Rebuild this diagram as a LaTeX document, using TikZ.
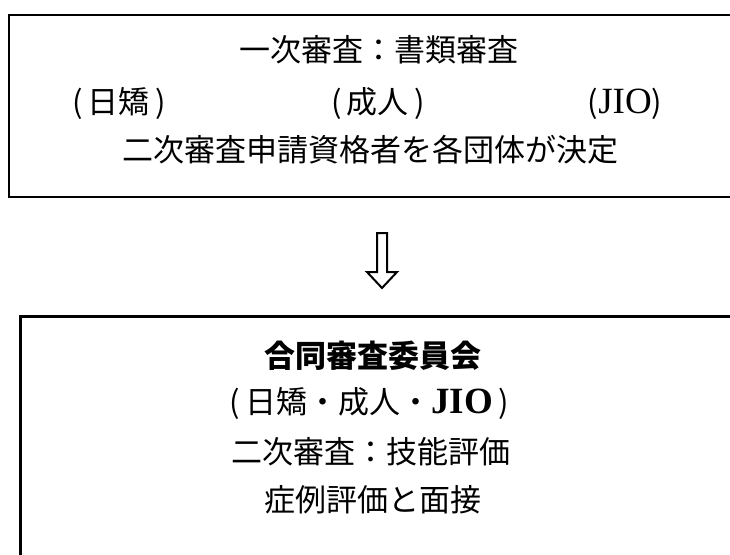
\documentclass[tikz,border=0pt]{standalone}
\usepackage{fontspec}
\newfontfamily\jp{Noto Sans CJK JP}
\newfontfamily\lat{Liberation Serif}
\newcommand{\jio}{{\lat\fontsize{37}{37}\selectfont JIO}}
\newcommand{\jiob}{{\lat\bfseries\fontsize{37}{37}\selectfont JIO}}
\begin{document}
\begin{tikzpicture}[x=1pt,y=-1pt,
  txt/.style={font=\jp\fontsize{31}{31}\selectfont, inner sep=0pt, anchor=center},
  txtb/.style={font=\jp\bfseries\fontsize{31}{31}\selectfont, inner sep=0pt, anchor=center},
  frame/.style={draw=black, line width=2.4pt, inner sep=0pt, anchor=north west},
  hollowarrow/.style={draw=black, fill=white, line width=2pt, line join=miter}]
\useasboundingbox[fill=white] (0,0) rectangle (730,554);
\clip (0,0) rectangle (730,554);
% boxes (cut off by the picture edge on the right / bottom)
\node[frame, minimum width=760pt, minimum height=182pt] (box1) at (8,14) {};
\node[frame, line width=2.8pt, minimum width=760pt, minimum height=300pt] (box2) at (19,315) {};
% top box texts
\node[txt] (t1) at (379,50) {一次審査：書類審査};
\node[txt] (t2a) at (119,104) {(\,日矯\,)};
\node[txt] (t2b) at (378,104) {(\,成人\,)};
\node[txt] (t2c) at (625,104) {(\jio)};
\node[txt] (t3) at (370,150) {二次審査申請資格者を各団体が決定};
% hollow arrow
\draw[hollowarrow] (377,233) -- (387,233) -- (387,272) -- (397,272) -- (382,288) -- (367,272) -- (377,272) -- cycle;
% bottom box texts
\node[txtb] (b1) at (373,356) {合同審査委員会};
\node[txt] (b2) at (369,403) {(\,日矯・成人・\jiob\,)};
\node[txt] (b3) at (371,452) {二次審査：技能評価};
\node[txt] (b4) at (373,500) {症例評価と面接};
\end{tikzpicture}
\end{document}
